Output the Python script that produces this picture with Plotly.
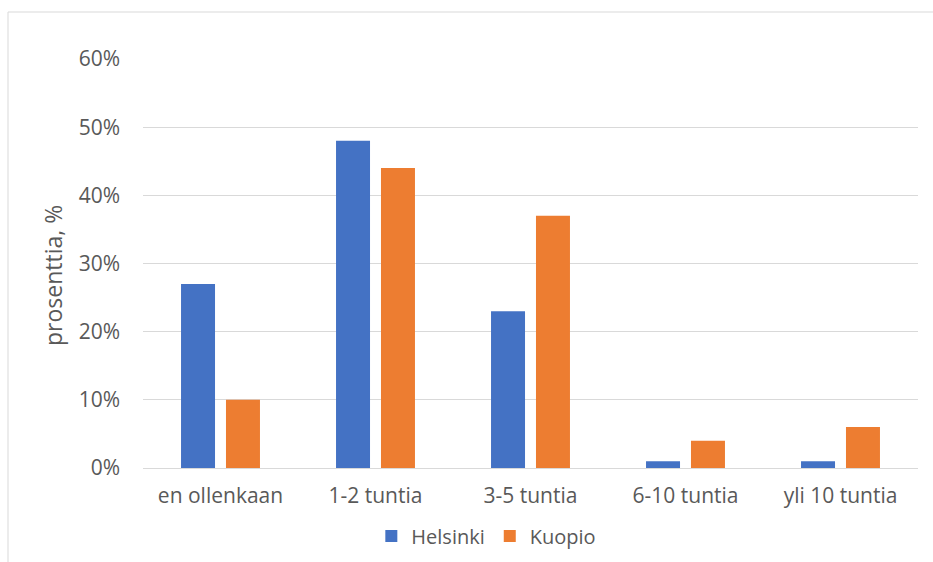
import plotly.graph_objects as go

categories = ["en ollenkaan", "1-2 tuntia", "3-5 tuntia", "6-10 tuntia", "yli 10 tuntia"]
helsinki = [0.27, 0.48, 0.23, 0.01, 0.01]
kuopio = [0.10, 0.44, 0.37, 0.04, 0.06]
tick_vals = [0, 0.1, 0.2, 0.3, 0.4, 0.5, 0.6]

FONT = "Open Sans, Noto Sans, sans-serif"
GRAY = "#595959"

fig = go.Figure()
fig.add_trace(go.Bar(name="Helsinki", x=categories, y=helsinki, marker_color="#4472C4",
                     marker_line_width=0))
fig.add_trace(go.Bar(name="Kuopio", x=categories, y=kuopio, marker_color="#ED7D31",
                     marker_line_width=0))

W, H = 933, 562
L, R, T, B = 143, 15, 59, 94
pw, ph = W - L - R, H - T - B

fig.update_layout(
    width=W, height=H,
    margin=dict(l=L, r=R, t=T, b=B, autoexpand=False),
    paper_bgcolor="white", plot_bgcolor="white",
    barmode="group", bargap=0.42, bargroupgap=0.244,
    font=dict(family=FONT, color=GRAY, size=20),
    showlegend=True,
    legend=dict(orientation="h", x=0.443, xanchor="center", y=(468 - 536) / ph, yanchor="middle",
                font=dict(size=20, color=GRAY), itemwidth=30, traceorder="normal"),
    xaxis=dict(showgrid=False, showline=True, linecolor="#D9D9D9", linewidth=1,
               ticks="", tickfont=dict(size=21, color=GRAY), ticklabelstandoff=9),
    yaxis=dict(range=[0, 0.6], tickvals=tick_vals, tickformat=".0%",
               showgrid=True, gridcolor="#D9D9D9", gridwidth=1, zeroline=False,
               showline=False, ticks="", tickfont=dict(size=21, color=GRAY),
               ticklabelstandoff=22),
    annotations=[
        dict(text="prosenttia, %", textangle=-90, showarrow=False,
             xref="paper", yref="paper", x=(53 - L) / pw, y=(468 - 276) / ph,
             xanchor="center", yanchor="middle",
             font=dict(size=23, color=GRAY)),
    ],
    shapes=[
        dict(type="line", xref="paper", yref="paper",
             x0=(8 - L) / pw, x1=(8 - L) / pw, y0=(T + ph - 12) / ph, y1=(T + ph - 570) / ph,
             line=dict(color="#D9D9D9", width=1)),
        dict(type="line", xref="paper", yref="paper",
             x0=(8 - L) / pw, x1=(940 - L) / pw, y0=(T + ph - 12) / ph, y1=(T + ph - 12) / ph,
             line=dict(color="#D9D9D9", width=1)),
    ],
)

fig.write_html("out.html")
